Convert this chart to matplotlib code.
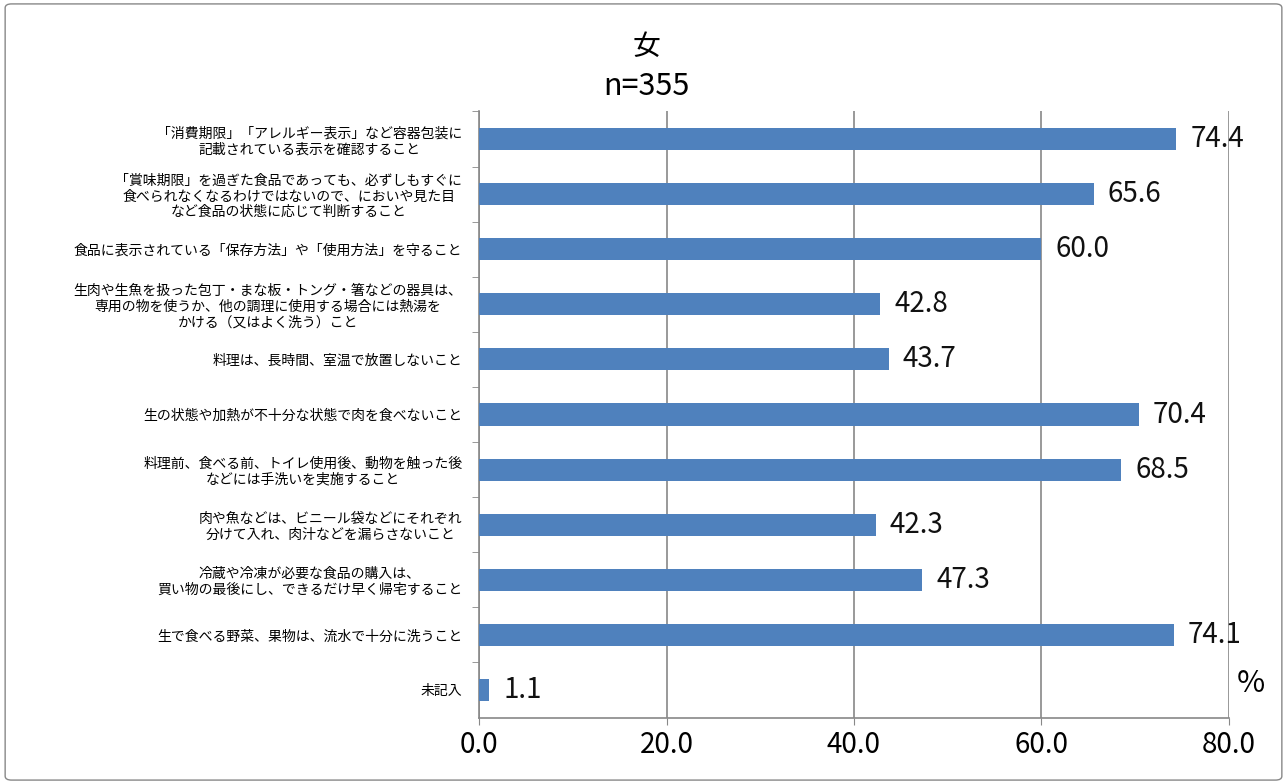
import matplotlib.pyplot as plt
from matplotlib.patches import FancyBboxPatch

plt.rcParams['font.family'] = ['Noto Sans CJK JP', 'DejaVu Sans']

categories = [
    "「消費期限」「アレルギー表示」など容器包装に\n記載されている表示を確認すること",
    "「賞味期限」を過ぎた食品であっても、必ずしもすぐに\n食べられなくなるわけではないので、においや見た目\nなど食品の状態に応じて判断すること",
    "食品に表示されている「保存方法」や「使用方法」を守ること",
    "生肉や生魚を扱った包丁・まな板・トング・箸などの器具は、\n専用の物を使うか、他の調理に使用する場合には熱湯を\nかける（又はよく洗う）こと",
    "料理は、長時間、室温で放置しないこと",
    "生の状態や加熱が不十分な状態で肉を食べないこと",
    "料理前、食べる前、トイレ使用後、動物を触った後\nなどには手洗いを実施すること",
    "肉や魚などは、ビニール袋などにそれぞれ\n分けて入れ、肉汁などを漏らさないこと",
    "冷蔵や冷凍が必要な食品の購入は、\n買い物の最後にし、できるだけ早く帰宅すること",
    "生で食べる野菜、果物は、流水で十分に洗うこと",
    "未記入",
]
values = [74.4, 65.6, 60.0, 42.8, 43.7, 70.4, 68.5, 42.3, 47.3, 74.1, 1.1]
x_ticks = [0, 20, 40, 60, 80]

fig = plt.figure(figsize=(12.87, 7.84), dpi=100)
ax = fig.add_axes([0.3722, 0.0848, 0.5827, 0.773])

# border around the whole chart
fig.patches.append(FancyBboxPatch((0.004, 0.005), 0.992, 0.99,
                                  boxstyle="round,pad=0,rounding_size=0.005",
                                  transform=fig.transFigure, fill=False,
                                  edgecolor='#888888', linewidth=1))

pos = list(range(len(values)))
ax.barh(pos, values, height=0.4, color='#4F81BD', zorder=3)
for p, v in zip(pos, values):
    ax.annotate(f"{v:.1f}", (v, p), xytext=(10, 0), textcoords='offset points',
                va='center', ha='left', fontsize=20, color='#111111', zorder=4)

ax.set_ylim(len(values) - 0.5, -0.5)
ax.set_xlim(0, 80)
ax.set_xticks(x_ticks)
ax.set_xticklabels([f"{t:.1f}" for t in x_ticks], fontsize=20)

ax.set_yticks(pos)
ax.set_yticklabels(categories, fontsize=10, multialignment='center', linespacing=1.15)
ax.tick_params(axis='y', length=0, pad=12)
ax.set_yticks([p + 0.5 for p in pos[:-1]] + [-0.5], minor=True)
ax.tick_params(axis='y', which='minor', length=5, color='#888888')
ax.tick_params(axis='x', length=5, color='#888888', pad=4)

ax.grid(axis='x', color='#888888', linewidth=1.2, zorder=0)
for side in ['top', 'right']:
    ax.spines[side].set_visible(False)
for side in ['left', 'bottom']:
    ax.spines[side].set_color('#888888')
    ax.spines[side].set_linewidth(1.2)

fig.text(0.502, 0.94, "女", ha='center', va='center', fontsize=20)
fig.text(0.502, 0.89, "n=355", ha='center', va='center', fontsize=22)
fig.text(0.972, 0.128, "%", ha='center', va='center', fontsize=22)

fig.savefig("out.png", dpi=100)
